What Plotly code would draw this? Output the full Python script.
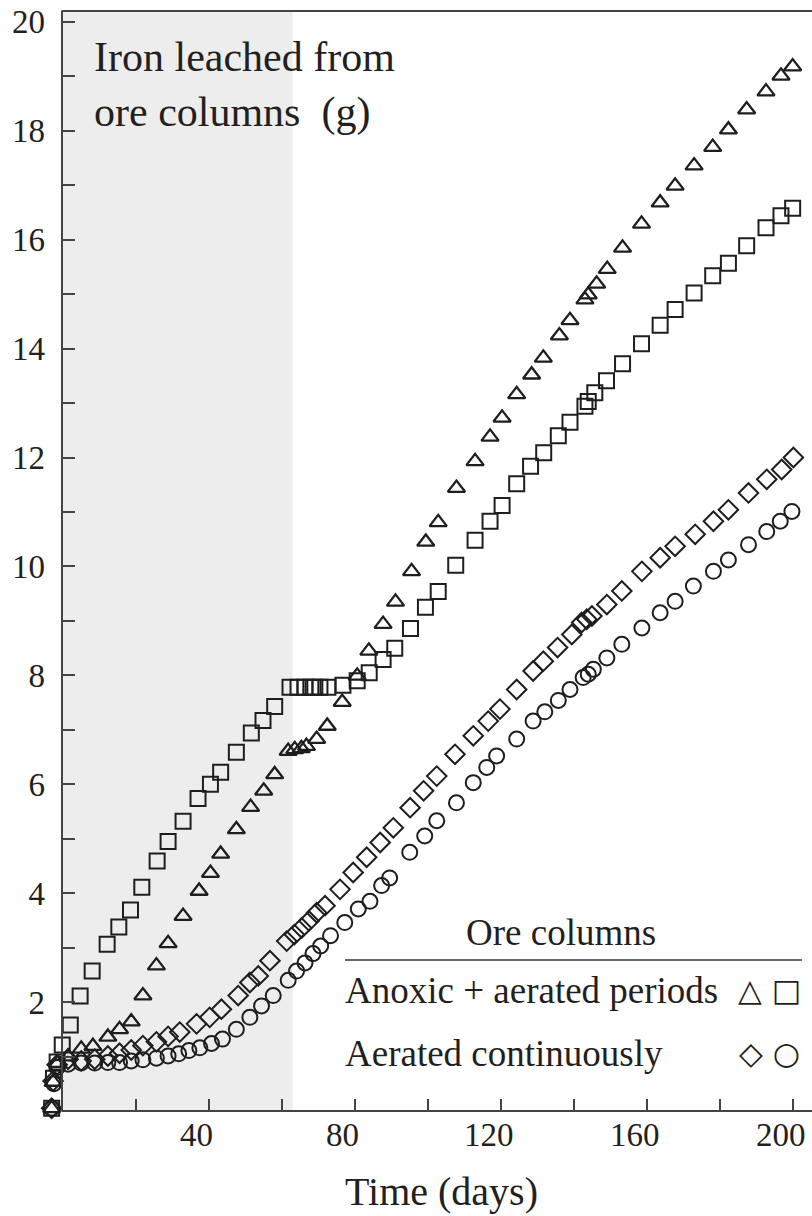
import plotly.graph_objects as go

# ---------------- data ----------------
tri_days = [-3.0, -2.6, -1.3, 1.5, 5.1, 8.3, 12.4, 15.6, 18.8, 22.0, 25.7, 28.9, 33.0, 37.4, 40.5,
            43.3, 47.6, 51.5, 55.1, 58.1, 61.8, 63.6, 65.4, 66.8, 69.6, 72.5, 76.6, 80.7, 83.9, 87.8,
            91.2, 95.6, 99.5, 102.9, 107.9, 113.0, 117.1, 120.4, 124.4, 128.5, 131.7, 136.1, 139.0,
            143.1, 144.0, 146.3, 149.2, 153.4, 158.6, 163.7, 167.8, 173.0, 178.1, 182.4, 187.4,
            192.7, 196.8, 200.0]
tri_iron = [0.05, 0.53, 0.88, 1.0, 1.14, 1.19, 1.36, 1.50, 1.64, 2.12, 2.67, 3.08, 3.58, 4.04, 4.37,
            4.72, 5.17, 5.58, 5.88, 6.18, 6.61, 6.64, 6.66, 6.70, 6.83, 7.07, 7.51, 7.99, 8.45, 8.94,
            9.35, 9.91, 10.45, 10.81, 11.44, 11.93, 12.38, 12.73, 13.16, 13.52, 13.83, 14.24, 14.52,
            14.90, 14.99, 15.19, 15.46, 15.85, 16.29, 16.68, 16.99, 17.36, 17.70, 18.02, 18.39,
            18.72, 19.01, 19.18]

sq_days = [-3.0, -2.5, -1.5, -0.1, 2.1, 4.8, 8.1, 12.2, 15.4, 18.6, 21.7, 25.9, 28.9, 33.0, 37.1,
           40.5, 43.3, 47.6, 51.7, 54.9, 58.1, 62.3, 64.5, 66.4, 68.0, 69.1, 70.5, 72.7, 76.8, 80.7,
           84.0, 87.8, 91.0, 95.3, 99.4, 102.9, 107.7, 113.0, 117.1, 120.4, 124.4, 128.2, 131.8,
           135.8, 139.0, 143.1, 144.0, 145.8, 149.0, 153.4, 158.6, 163.7, 167.8, 173.0, 178.1,
           182.4, 187.4, 192.7, 196.8, 200.0]
sq_iron = [0.05, 0.6, 0.9, 1.21, 1.58, 2.11, 2.57, 3.06, 3.38, 3.69, 4.11, 4.59, 4.95, 5.32, 5.74,
           6.00, 6.22, 6.59, 6.94, 7.17, 7.43, 7.78, 7.78, 7.78, 7.78, 7.78, 7.78, 7.78, 7.82, 7.90,
           8.05, 8.29, 8.50, 8.86, 9.25, 9.54, 10.02, 10.48, 10.83, 11.12, 11.52, 11.84, 12.09,
           12.40, 12.65, 12.94, 13.03, 13.19, 13.41, 13.72, 14.09, 14.43, 14.72, 15.02, 15.34,
           15.57, 15.89, 16.22, 16.44, 16.58]

dia_days = [-3.0, -2.6, -1.5, 1.5, 5.1, 8.8, 12.4, 15.6, 18.8, 22.0, 25.7, 28.9, 32.1, 36.7, 40.3,
            43.5, 48.1, 51.3, 53.6, 56.8, 61.4, 63.5, 65.5, 67.5, 69.6, 71.9, 76.0, 79.6, 83.3, 87.0,
            90.6, 95.2, 98.9, 102.5, 107.5, 112.5, 116.6, 119.8, 124.4, 128.9, 131.7, 135.6, 139.5,
            142.2, 143.6, 145.0, 149.1, 153.2, 158.7, 163.7, 167.8, 173.3, 178.3, 182.4, 187.9,
            192.9, 197.0, 200.2]
dia_iron = [0.05, 0.55, 0.85, 0.95, 0.92, 0.95, 1.01, 1.06, 1.12, 1.20, 1.27, 1.37, 1.45, 1.60, 1.72,
            1.87, 2.12, 2.36, 2.48, 2.76, 3.12, 3.24, 3.36, 3.49, 3.64, 3.77, 4.07, 4.38, 4.66, 4.93,
            5.20, 5.57, 5.88, 6.15, 6.55, 6.89, 7.16, 7.38, 7.74, 8.08, 8.26, 8.51, 8.75, 8.97, 9.03,
            9.09, 9.30, 9.55, 9.91, 10.16, 10.37, 10.59, 10.83, 11.04, 11.35, 11.60, 11.78, 12.00]

cir_days = [-3.0, -2.4, -1.5, 1.5, 5.1, 8.8, 12.4, 15.6, 18.8, 22.0, 25.7, 28.9, 31.8, 34.6, 37.6,
            40.8, 43.8, 47.6, 51.3, 54.5, 57.7, 61.8, 64.1, 66.4, 68.6, 70.7, 73.4, 77.3, 81.0, 84.2,
            87.4, 89.6, 95.1, 99.2, 102.5, 107.9, 112.5, 116.2, 118.9, 124.4, 128.9, 132.1, 135.8,
            139.0, 142.6, 144.0, 145.4, 149.1, 153.2, 158.7, 163.7, 167.8, 172.8, 178.3, 182.4,
            187.9, 192.9, 196.6, 199.8]
cir_iron = [0.05, 0.5, 0.8, 0.86, 0.88, 0.88, 0.89, 0.89, 0.92, 0.94, 0.97, 1.01, 1.05, 1.11, 1.16,
            1.24, 1.32, 1.50, 1.72, 1.93, 2.12, 2.40, 2.57, 2.72, 2.89, 3.03, 3.22, 3.46, 3.71, 3.85,
            4.14, 4.28, 4.75, 5.05, 5.33, 5.66, 6.03, 6.31, 6.52, 6.83, 7.16, 7.33, 7.54, 7.74, 7.96,
            8.02, 8.11, 8.32, 8.57, 8.87, 9.15, 9.36, 9.64, 9.91, 10.12, 10.40, 10.64, 10.83, 11.01]

anoxic_period = [-0.3, 63.0]          # shaded interval (days)
x_axis_start = -0.3                   # where the drawn y axis sits (days)
x_range = [-4.0, 205.3]
y_range = [0, 20.2]

x_tick_vals = [20, 40, 60, 80, 100, 120, 140, 160, 180, 200]
x_tick_text = ["", "40", "", "80", "", "120", "", "160", "", "200"]
y_tick_vals = list(range(1, 21))
y_tick_text = [str(v) if v % 2 == 0 else "" for v in y_tick_vals]

panel_title = "Iron leached from<br>ore columns\u00a0 (g)"
x_title = "Time (days)"
legend_title = "Ore columns"
legend_rows = ["Anoxic + aerated periods", "Aerated continuously"]
legend_syms = ["\u25B3 \u25A1", "\u25C7 \u25CB"]

# ---------------- style ----------------
FONT = "'Liberation Serif', 'Times New Roman', 'DejaVu Serif', serif"
TXT = "#231f20"
INK = "#1e1e1e"
AX = "#444444"
L_MARGIN = 48
B_MARGIN = 105
T_MARGIN = 11
PLOT_W = 812 - L_MARGIN
PLOT_H = 1216 - B_MARGIN - T_MARGIN

def px_to_paper(px):
    return (px - L_MARGIN) / PLOT_W

def py_to_paper(py):
    return (1216 - B_MARGIN - py) / PLOT_H

fig = go.Figure()

def add(x, y, symbol, size, lw):
    fig.add_trace(go.Scatter(
        x=x, y=y, mode="markers", cliponaxis=False, showlegend=False,
        marker=dict(symbol=symbol, size=size, color=INK,
                    line=dict(color=INK, width=lw))))

add(cir_days, cir_iron, "circle-open", 15, 2.0)
add(dia_days, dia_iron, "diamond-open", 15, 2.0)
add(sq_days, sq_iron, "square-open", 15, 2.0)
add(tri_days, tri_iron, "triangle-up-open", 15, 2.3)

fig.add_shape(type="rect", xref="x", yref="paper", x0=anoxic_period[0], x1=anoxic_period[1],
              y0=0, y1=1, fillcolor="#ededed", line=dict(width=0), layer="below")

# bottom and top frame lines start at the y axis
for yy in (0, 1):
    fig.add_shape(type="line", xref="x", yref="paper", x0=x_axis_start, x1=x_range[1],
                  y0=yy, y1=yy, line=dict(color=AX, width=2), layer="above")

# legend (drawn manually: text followed by symbols)
fig.add_shape(type="line", xref="paper", yref="paper", x0=px_to_paper(345), x1=px_to_paper(802),
              y0=py_to_paper(960), y1=py_to_paper(960), line=dict(color="#333333", width=1.6))
fig.add_annotation(xref="paper", yref="paper", x=px_to_paper(561), y=py_to_paper(932),
                   text=legend_title, showarrow=False, xanchor="center", yanchor="middle",
                   font=dict(family=FONT, size=37, color=TXT))
for lab, sym, py in zip(legend_rows, legend_syms, (990, 1053)):
    fig.add_annotation(xref="paper", yref="paper", x=px_to_paper(343), y=py_to_paper(py), text=lab,
                       showarrow=False, xanchor="left", yanchor="middle",
                       font=dict(family=FONT, size=37, color=TXT))
    fig.add_annotation(xref="paper", yref="paper", x=px_to_paper(769), y=py_to_paper(py), text=sym,
                       showarrow=False, xanchor="center", yanchor="middle",
                       font=dict(family="DejaVu Sans", size=31, color=INK))

fig.add_annotation(xref="paper", yref="paper", x=px_to_paper(92), y=py_to_paper(32), text=panel_title,
                   showarrow=False, xanchor="left", yanchor="top", align="left",
                   font=dict(family=FONT, size=42, color=TXT))

fig.add_annotation(xref="paper", yref="paper", x=px_to_paper(441), y=py_to_paper(1191), text=x_title,
                   showarrow=False, xanchor="center", yanchor="middle",
                   font=dict(family=FONT, size=40, color=TXT))

fig.update_layout(
    width=812, height=1216,
    margin=dict(l=L_MARGIN, r=0, t=T_MARGIN, b=B_MARGIN),
    paper_bgcolor="white", plot_bgcolor="white",
    font=dict(family=FONT, color=TXT),
    xaxis=dict(range=x_range, tickmode="array", tickvals=x_tick_vals, ticktext=x_tick_text,
               ticks="inside", ticklen=12, tickwidth=2, tickcolor=AX,
               showline=False, showgrid=False, zeroline=False,
               ticklabelshift=-12, ticklabelstandoff=1,
               tickfont=dict(family=FONT, size=33, color=TXT)),
    yaxis=dict(range=y_range, tickmode="array", tickvals=y_tick_vals, ticktext=y_tick_text,
               anchor="free", position=(x_axis_start - x_range[0]) / (x_range[1] - x_range[0]),
               ticks="inside", ticklen=12, tickwidth=2, tickcolor=AX,
               showline=True, linecolor=AX, linewidth=2,
               showgrid=False, zeroline=False, ticklabelstandoff=9,
               tickfont=dict(family=FONT, size=33, color=TXT)),
)

fig.write_html("out.html")
